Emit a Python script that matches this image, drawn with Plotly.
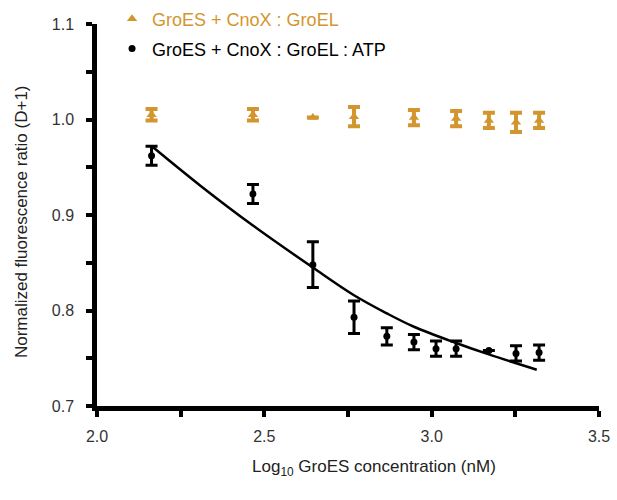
import plotly.graph_objects as go

# Data
groel_x = [2.163, 2.466, 2.645, 2.768, 2.947, 3.073, 3.171, 3.252, 3.321]
groel_y = [1.005, 1.005, 1.002, 1.003, 1.002, 1.001, 0.999, 0.997, 0.999]
groel_err = [0.006, 0.006, None, 0.010, 0.008, 0.008, 0.008, 0.010, 0.008]

atp_x = [2.163, 2.466, 2.645, 2.768, 2.866, 2.947, 3.013, 3.073, 3.171, 3.252, 3.321]
atp_y = [0.962, 0.922, 0.848, 0.793, 0.773, 0.767, 0.760, 0.760, 0.758, 0.755, 0.756]
atp_err = [0.010, 0.010, 0.024, 0.017, 0.009, 0.008, 0.008, 0.008, None, 0.008, 0.008]

fit_x = [2.164, 2.308, 2.466, 2.645, 2.768, 2.866, 2.947, 3.073, 3.171, 3.314]
fit_y = [0.972, 0.931, 0.889, 0.845, 0.816, 0.797, 0.783, 0.766, 0.754, 0.738]

ORANGE = "#D3962F"
FONT = "Liberation Sans, Arial, sans-serif"

fig = go.Figure()
fig.add_trace(go.Scatter(
    x=groel_x, y=groel_y, mode="markers", name="GroES + CnoX : GroEL",
    marker=dict(symbol="triangle-up", size=9, color=ORANGE),
    error_y=dict(type="data", array=groel_err, color=ORANGE, thickness=4, width=6),
    legend="legend",
))
fig.add_trace(go.Scatter(
    x=atp_x, y=atp_y, mode="markers", name="GroES + CnoX : GroEL : ATP",
    marker=dict(symbol="circle", size=7, color="black"),
    error_y=dict(type="data", array=atp_err, color="black", thickness=3, width=6),
    legend="legend2",
))
fig.add_trace(go.Scatter(
    x=fit_x, y=fit_y, mode="lines", line=dict(color="black", width=2.5, shape="spline"),
    showlegend=False, hoverinfo="skip",
))

axis_common = dict(
    showline=True, linewidth=4.5, linecolor="black", mirror=False,
    showgrid=False, zeroline=False,
    ticks="outside", ticklen=6, tickwidth=4, tickcolor="black",
    tickfont=dict(family=FONT, size=16, color="#333"),
    tickformat=".1f",
)

fig.update_layout(
    width=617, height=500,
    margin=dict(l=97, r=18, t=24, b=94, autoexpand=False),
    paper_bgcolor="white", plot_bgcolor="white",
    font=dict(family=FONT, color="#222"),
    xaxis=dict(range=[2.0, 3.5], tick0=2.0, dtick=0.5, ticklabelstandoff=6,
               minor=dict(ticks="outside", dtick=0.25, ticklen=6, tickwidth=4, tickcolor="black"),
               **axis_common),
    yaxis=dict(range=[0.7, 1.1], tick0=0.7, dtick=0.1, ticklabelstandoff=9,
               minor=dict(ticks="outside", dtick=0.05, ticklen=6, tickwidth=4, tickcolor="black"),
               **axis_common),
    legend=dict(x=0.03, y=1.013, xanchor="left", yanchor="middle",
                font=dict(family=FONT, size=18, color=ORANGE), bgcolor="rgba(0,0,0,0)"),
    legend2=dict(x=0.03, y=0.935, xanchor="left", yanchor="middle",
                 font=dict(family=FONT, size=18, color="black"), bgcolor="rgba(0,0,0,0)"),
    annotations=[
        dict(text="Log<sub>10</sub> GroES concentration (nM)", xref="paper", yref="paper",
             x=0.552, y=-0.163, xanchor="center", yanchor="middle", showarrow=False,
             font=dict(family=FONT, size=17, color="#222")),
        dict(text="Normalized fluorescence ratio (D+1)", xref="paper", yref="paper",
             x=-0.149, y=0.482, xanchor="center", yanchor="middle", showarrow=False,
             textangle=-90, font=dict(family=FONT, size=17, color="#222")),
    ],
)

fig.write_html("out.html")
